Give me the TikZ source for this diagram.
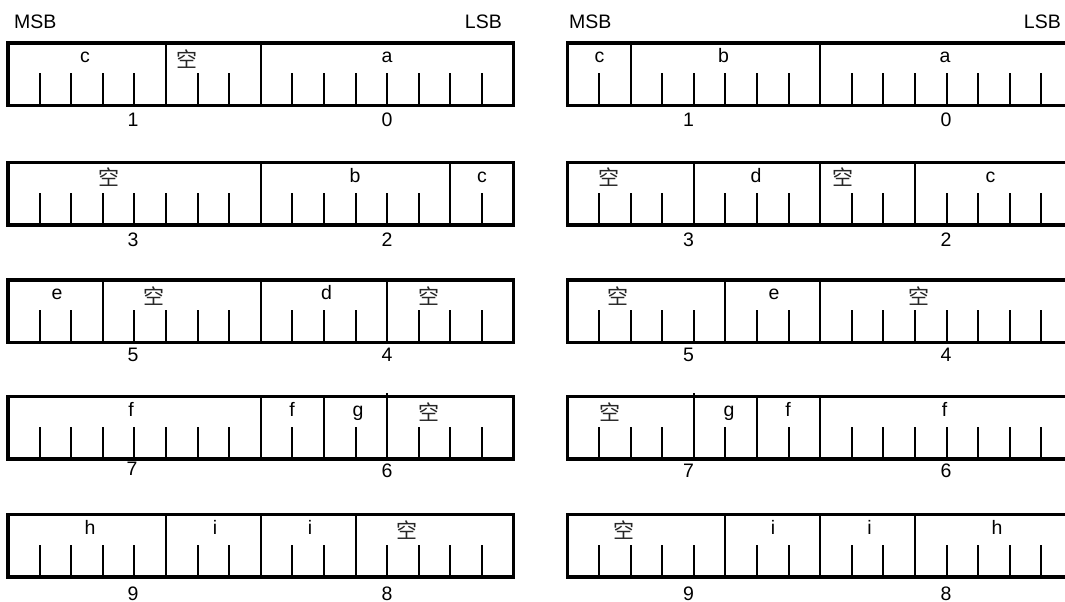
\documentclass[tikz,border=0pt]{standalone}
\usepackage{fontspec}
\setmainfont{Liberation Sans}
\newfontfamily\cjk{Noto Sans CJK SC}
\newcommand{\cw}{31.6}
\newcommand{\bxh}{62.5}
% #1 x0, #2 top, #3 dividers, #4 ticks
\newcommand{\bitinner}[4]{%
  \foreach \d in {#3} \draw[divider] ({#1+\d*\cw},{#2}) -- ++(0,\bxh);
  \foreach \t in {#4} \draw[tick] ({#1+\t*\cw},{#2+\bxh}) -- ++(0,-32.5);
}
\newcommand{\leftframe}[1]{\draw[frame] (8,#1) rectangle ({8+16*\cw},{#1+\bxh});}
\newcommand{\rightframe}[1]{\draw[frame] (1072,#1) -- (567.3,#1) -- (567.3,{#1+\bxh}) -- (1072,{#1+\bxh});}
\begin{document}
\begin{tikzpicture}[x=1pt,y=-1pt,
  frame/.style={line width=3.3pt},
  divider/.style={line width=2pt},
  tick/.style={line width=2pt},
  lbl/.style={font=\fontsize{19.5}{21}\selectfont, anchor=base, inner sep=0pt},
  kong/.style={font=\cjk\fontsize{21}{22}\selectfont, inner sep=0pt, text=black!85},
  num/.style={font=\fontsize{19.5}{21}\selectfont, anchor=base, inner sep=0pt}]
\useasboundingbox (0,0) rectangle (1065,602);

% headers
\node[lbl, anchor=base west] (msbL) at (14,29) {MSB};
\node[lbl, anchor=base east] (lsbL) at (502,29) {LSB};
\node[lbl, anchor=base west] (msbR) at (569,29) {MSB};
\node[lbl, anchor=base east] (lsbR) at (1061,29) {LSB};

%================ LEFT ================
% row 1 (top 43)
\bitinner{8}{43}{5,8}{1,2,3,4,6,7,9,10,11,12,13,14,15}
\leftframe{43}
\node[lbl] (L1c) at (85,62.5) {c};
\node[kong] (L1k) at (187,59) {空};
\node[lbl] (L1a) at (387,62.5) {a};
\node[num] (L1n1) at (133,126) {1};
\node[num] (L1n0) at (387,126) {0};

% row 2 (top 162.5)
\bitinner{8}{162.5}{8,14}{1,2,3,4,5,6,7,9,10,11,12,13,15}
\leftframe{162.5}
\node[kong] (L2k) at (109,177) {空};
\node[lbl] (L2b) at (355,182) {b};
\node[lbl] (L2c) at (482,182) {c};
\node[num] (L2n3) at (133,246.5) {3};
\node[num] (L2n2) at (387,246.5) {2};

% row 3 (top 280)
\bitinner{8}{280}{3,8,12}{1,2,4,5,6,7,9,10,11,13,14,15}
\leftframe{280}
\node[lbl] (L3e) at (57,299.5) {e};
\node[kong] (L3k1) at (154,296.5) {空};
\node[lbl] (L3d) at (326.5,299.5) {d};
\node[kong] (L3k2) at (429,296.5) {空};
\node[num] (L3n5) at (133,361.5) {5};
\node[num] (L3n4) at (387,361.5) {4};

% row 4 (top 396.5)
\bitinner{8}{396.5}{8,10}{1,2,3,4,5,6,7,9,11,13,14,15}
\draw[divider] ({8+12*\cw},393) -- ({8+12*\cw},{396.5+\bxh});
\leftframe{396.5}
\node[lbl] (L4f1) at (131,416) {f};
\node[lbl] (L4f2) at (292,416) {f};
\node[lbl] (L4g) at (358,416) {g};
\node[kong] (L4k) at (428.5,412.5) {空};
\node[num] (L4n7) at (132,475.5) {7};
\node[num] (L4n6) at (387,477) {6};

% row 5 (top 514.5)
\bitinner{8}{514.5}{5,8,11}{1,2,3,4,6,7,9,10,12,13,14,15}
\leftframe{514.5}
\node[lbl] (L5h) at (90,534) {h};
\node[lbl] (L5i1) at (215,534) {i};
\node[lbl] (L5i2) at (310,534) {i};
\node[kong] (L5k) at (406.5,530.5) {空};
\node[num] (L5n9) at (133,600) {9};
\node[num] (L5n8) at (387,600) {8};

%================ RIGHT ================
% row 1
\bitinner{567.3}{43}{2,8}{1,3,4,5,6,7,9,10,11,12,13,14,15}
\rightframe{43}
\node[lbl] (R1c) at (599.5,62.5) {c};
\node[lbl] (R1b) at (723.5,62.5) {b};
\node[lbl] (R1a) at (945,62.5) {a};
\node[num] (R1n1) at (688.5,126) {1};
\node[num] (R1n0) at (946,126) {0};

% row 2
\bitinner{567.3}{162.5}{4,8,11}{1,2,3,5,6,7,9,10,12,13,14,15}
\rightframe{162.5}
\node[kong] (R2k1) at (608.5,177) {空};
\node[lbl] (R2d) at (756,182) {d};
\node[kong] (R2k2) at (843,177) {空};
\node[lbl] (R2c) at (990.5,182) {c};
\node[num] (R2n3) at (688.5,246.5) {3};
\node[num] (R2n2) at (946,246.5) {2};

% row 3
\bitinner{567.3}{280}{5,8}{1,2,3,4,6,7,9,10,11,12,13,14,15}
\rightframe{280}
\node[kong] (R3k1) at (618,296.5) {空};
\node[lbl] (R3e) at (774,299.5) {e};
\node[kong] (R3k2) at (919,296.5) {空};
\node[num] (R3n5) at (688.5,361.5) {5};
\node[num] (R3n4) at (946,361.5) {4};

% row 4
\bitinner{567.3}{396.5}{6,8}{1,2,3,5,7,9,10,11,12,13,14,15}
\draw[divider] ({567.3+4*\cw},393) -- ({567.3+4*\cw},{396.5+\bxh});
\rightframe{396.5}
\node[kong] (R4k) at (609.5,412.5) {空};
\node[lbl] (R4g) at (729,416) {g};
\node[lbl] (R4f1) at (788,416) {f};
\node[lbl] (R4f2) at (944.5,416) {f};
\node[num] (R4n7) at (688.5,477) {7};
\node[num] (R4n6) at (946,477) {6};

% row 5
\bitinner{567.3}{514.5}{5,8,11}{1,2,3,4,6,7,9,10,12,13,14,15}
\rightframe{514.5}
\node[kong] (R5k) at (623.5,530.5) {空};
\node[lbl] (R5i1) at (773,534) {i};
\node[lbl] (R5i2) at (869.5,534) {i};
\node[lbl] (R5h) at (997,534) {h};
\node[num] (R5n9) at (688.5,600) {9};
\node[num] (R5n8) at (946,600) {8};
\end{tikzpicture}
\end{document}
